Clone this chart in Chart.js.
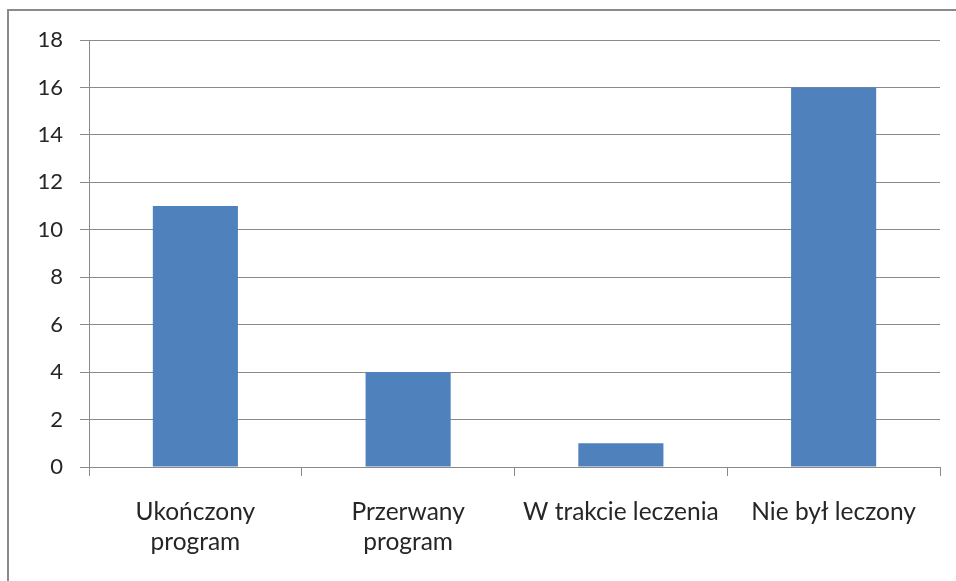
<!DOCTYPE html>
<html>
<head>
<meta charset="utf-8">
<script src="https://cdn.jsdelivr.net/npm/chart.js@4/dist/chart.umd.min.js"></script>
<style>
html,body{margin:0;padding:0;background:#fff;}
#wrap{position:relative;width:956px;height:581px;}
</style>
</head>
<body>
<div id="wrap"><canvas id="c" width="956" height="581"></canvas></div>
<script>
const categories = [["Ukończony", "program"], ["Przerwany", "program"], "W trakcie leczenia", "Nie był leczony"];
const values = [11, 4, 1, 16];
const yMin = 0, yMax = 18, yStep = 2;

const framePlugin = {
  id: 'frame',
  beforeDraw(chart) {
    const ctx = chart.ctx;
    ctx.save();
    ctx.fillStyle = '#fff';
    ctx.fillRect(0, 0, chart.width, chart.height);
    ctx.strokeStyle = '#8a8a8a';
    ctx.lineWidth = 2;
    ctx.strokeRect(8, 10, chart.width + 20, chart.height + 20);
    ctx.restore();
  }
};

const FONT = "Lato, 'Open Sans', sans-serif";

new Chart(document.getElementById('c'), {
  type: 'bar',
  data: {
    labels: categories,
    datasets: [{
      data: values,
      backgroundColor: '#4F81BD',
      borderWidth: 0,
      categoryPercentage: 0.4,
      barPercentage: 1.0
    }]
  },
  options: {
    responsive: false,
    animation: false,
    devicePixelRatio: 1,
    layout: { padding: { top: 40, right: 16, left: 0, bottom: 0 } },
    plugins: { legend: { display: false }, tooltip: { enabled: false } },
    scales: {
      x: {
        grid: { drawOnChartArea: false, drawTicks: true, tickLength: 9, color: '#8a8a8a', offset: true },
        border: { color: '#8a8a8a' },
        ticks: { color: '#262626', font: { family: FONT, size: 24.5, lineHeight: 1.24 }, padding: 21, maxRotation: 0, autoSkip: false },
        afterFit(scale) { scale.height = 114; }
      },
      y: {
        min: yMin, max: yMax,
        grid: { color: '#8a8a8a', tickLength: 9 },
        border: { color: '#8a8a8a' },
        ticks: { stepSize: yStep, color: '#262626', font: { family: FONT, size: 22 }, padding: 17 },
        afterFit(scale) { scale.width = 89; }
      }
    }
  },
  plugins: [framePlugin]
});
</script>
</body>
</html>
